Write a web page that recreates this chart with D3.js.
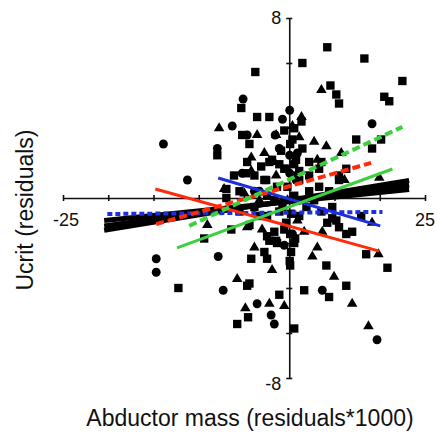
<!DOCTYPE html>
<html>
<head>
<meta charset="utf-8">
<script src="https://cdn.jsdelivr.net/npm/d3@7/dist/d3.min.js"></script>
<style>
    body { margin: 0; background: #fff; }
    text { font-family: Arial, "Liberation Sans", sans-serif; fill: #111; }
    .axis path, .axis line { stroke: #111; stroke-width: 1.6; }
</style>
</head>
<body>
<div id="chart-area"></div>
<script>

// residuals: [abductor mass, ucrit]
const squares = [
    [-7.5, 5.6], [-10.6, 4.0], [-7.1, 3.6], [-4.4, 3.6], [-10.4, 2.8], [2.9, 6.0], [8.4, 6.7],
    [16.6, 6.2], [25.0, 5.2], [9.1, 5.0], [10.4, 4.6], [11.0, 4.2], [21.0, 4.5], [22.1, 4.3],
    [2.7, 3.4], [14.8, 2.6], [1.1, 3.1], [-8.8, 2.4], [0.2, 2.4], [18.3, 2.2], [20.3, 2.6],
    [2.9, 2.2], [-3.8, 1.7], [-2.2, 1.5], [-1.1, 1.3], [1.1, 1.5], [6.6, 1.3], [-9.5, 1.1],
    [-5.1, 0.8], [11.0, 1.0], [-15.9, 1.9], [-4.4, 1.6], [-7.7, 1.0], [-5.5, 0.8], [-0.7, 1.3],
    [0.7, 1.0], [-13.9, 0.4], [-13.9, 0.0], [-18.8, -1.8], [-12.8, -1.4], [-0.7, -1.1],
    [0.2, -1.6], [-4.4, -1.9], [-2.9, -1.9], [-24.5, -4.0], [-9.3, -3.9], [-11.5, -5.6],
    [-9.1, -5.3], [-4.9, -1.7], [-2.7, -2.0], [1.1, -2.0], [0.4, -2.4], [-5.5, -2.4],
    [-8.4, -2.7], [-4.9, -2.7], [-8.8, -3.8], [8.2, -3.0], [9.5, -0.9], [11.0, -1.3],
    [12.6, -1.6], [13.9, -1.5], [12.6, -3.9], [3.3, -4.1], [8.8, -4.4], [-2.2, -4.3],
    [1.1, -5.8], [17.0, -2.5], [21.7, -3.1], [7.1, 1.6], [12.6, 1.3], [11.0, 0.8],
    [3.8, -0.4], [7.1, -0.6], [9.5, -0.4], [8.4, -1.1], [10.4, -1.0], [15.9, -0.8],
    [0.1, -2.8], [0.2, -3.0], [4.4, 0.3], [2.2, -0.8], [-2.2, -0.6], [-6.6, -0.8],
    [-11.0, -0.6], [2.2, 0.8], [4.4, 1.0], [-3.3, -0.1],
    [-1.1, 3.0], [0.7, 2.6], [-1.8, 2.1], [1.5, 1.7], [-0.4, 0.5], [1.1, 0.1], [-1.5, -0.4],
    [0.4, -0.7], [-1.1, -1.4], [1.3, -1.8], [-6.2, 1.4], [-9.3, 1.6], [-12.2, 1.0],
    [-11.0, 0.3], [-7.7, -0.4], [-4.9, -0.8], [-8.8, -1.2], [-3.3, -1.5], [2.2, 1.2],
    [4.4, 1.6], [5.5, -0.1], [6.6, 0.5], [8.8, 0.3], [-2.7, 0.5], [-4.9, 0.1]
];

const circles = [
    [-10.2, 4.4], [-12.6, 3.2], [-9.3, 2.8], [-3.1, 2.8], [0.1, 3.9], [18.3, 3.3], [-2.2, 2.2],
    [1.8, 2.0], [-10.4, 1.1], [0.1, 1.1], [-15.9, 2.2], [0.1, 1.9], [-27.8, 2.4], [-22.5, 0.8],
    [-29.4, -2.7], [-29.4, -3.3], [-15.7, -2.6], [-14.6, -4.1], [0.7, -1.6], [7.3, -4.1],
    [-7.1, -4.7], [-4.0, -5.2], [-3.3, -5.6], [19.4, -6.3], [-6.6, 0.3], [2.2, -0.1],
    [-1.5, 3.5], [1.5, 0.8], [-1.1, -2.1], [-7.7, 0.3]
];

const triangles = [
    [-15.5, 3.1], [2.7, 3.6], [2.2, 2.7], [7.1, 4.8], [-2.9, 2.8], [8.2, 2.3], [11.5, 2.0],
    [-5.5, 2.0], [-8.4, 1.8], [6.2, 1.7], [-8.4, 1.2], [-2.9, 1.0], [12.2, 0.8], [19.9, 0.9],
    [-14.4, 0.4], [-18.1, -1.2], [-9.9, 0.2], [-11.5, -3.6], [-9.7, -4.9], [-9.3, -1.3],
    [-6.0, -1.4], [1.8, -1.0], [-7.7, -2.2], [-3.8, -3.2], [6.2, -2.2], [5.1, -2.6],
    [7.3, -1.5], [9.9, -3.5], [13.9, -4.7], [-4.4, -4.7], [-1.1, -4.8], [17.5, -5.7],
    [19.7, -2.5], [18.3, -1.1], [-6.6, -0.1],
    [0.7, 3.2], [-0.4, -0.1], [-3.3, 1.6], [3.3, -1.5], [-7.1, 2.8], [5.5, 2.5]
];

// regression lines: [x1, y1, x2, y2]
const fitNames = ["all-a", "all-b", "all-c", "blueDash", "blue", "red", "redDash", "greenDash", "green"];
const fitValues = [
    [-40.9, -1.00, 26.5, 0.38],
    [-40.9, -1.24, 26.5, 0.58],
    [-40.9, -1.44, 26.5, 0.78],
    [-40.2, -0.71, 20.6, -0.62],
    [-15.7, 0.89, 20.1, -1.24],
    [-29.6, 0.40, 19.9, -2.36],
    [-29.4, -1.16, 18.1, 1.56],
    [-22.1, -1.24, 25.0, 3.16],
    [-24.8, -2.22, 22.8, 1.29]
];

// axis ends and their labels
const xDomain = [-50, 30];
const yDomain = [-8, 8];
const xEndLabels = ["-25", "25"];
const yEndLabels = ["-8", "8"];
const xTitle = "Abductor mass (residuals*1000)";
const yTitle = "Ucrit (residuals)";


class ScatterVis {

    constructor(parentElement) {
        this.parentElement = parentElement;
        this.initVis();
    }

    initVis() {
        let vis = this;

        vis.margin = {top: 18, right: 12, bottom: 59, left: 63};
        vis.width = 437 - vis.margin.left - vis.margin.right;
        vis.height = 437 - vis.margin.top - vis.margin.bottom;

        vis.svg = d3.select("#" + vis.parentElement).append("svg")
            .attr("width", 437)
            .attr("height", 437)
            .append("g")
            .attr("transform", "translate(" + vis.margin.left + "," + vis.margin.top + ")");

        vis.xScale = d3.scaleLinear()
            .domain(xDomain)
            .range([0, vis.width]);

        vis.yScale = d3.scaleLinear()
            .domain(yDomain)
            .range([vis.height, 0]);

        vis.updateVis();
    }

    updateVis() {
        let vis = this;

        // axes cross at zero, ticks cross the lines
        let xAxis = d3.axisBottom(vis.xScale)
            .tickValues(d3.range(xDomain[0], xDomain[1] + 1, 10))
            .tickSizeOuter(0)
            .tickFormat("");

        let yAxis = d3.axisLeft(vis.yScale)
            .tickValues(d3.range(yDomain[0], yDomain[1] + 1, 2))
            .tickSizeOuter(0)
            .tickFormat("");

        let gx = vis.svg.append("g")
            .attr("class", "axis x-axis")
            .attr("transform", "translate(0," + vis.yScale(0) + ")")
            .call(xAxis);
        gx.selectAll(".tick line").attr("y1", -3).attr("y2", 3);

        let gy = vis.svg.append("g")
            .attr("class", "axis y-axis")
            .attr("transform", "translate(" + vis.xScale(0) + ",0)")
            .call(yAxis);
        gy.selectAll(".tick line").attr("x1", -3).attr("x2", 3);

        // end labels
        vis.svg.selectAll(".x-end")
            .data(xEndLabels)
            .enter().append("text")
            .attr("class", "x-end")
            .attr("x", (d, i) => vis.xScale(xDomain[i]) + (i === 0 ? 3 : 0))
            .attr("y", vis.yScale(0) + 28)
            .attr("text-anchor", "middle")
            .style("font-size", "18px")
            .text(d => d);

        vis.svg.selectAll(".y-end")
            .data(yEndLabels)
            .enter().append("text")
            .attr("class", "y-end")
            .attr("x", vis.xScale(0) - 8)
            .attr("y", (d, i) => vis.yScale(yDomain[i]) + (i === 0 ? 12 : 6))
            .attr("text-anchor", "end")
            .style("font-size", "18px")
            .text(d => d);

        // markers
        let shapes = [
            {data: squares, type: d3.symbolSquare, size: 70},
            {data: circles, type: d3.symbolCircle, size: 62},
            {data: triangles, type: d3.symbolTriangle, size: 48}
        ];

        shapes.forEach(s => {
            vis.svg.append("g")
                .selectAll("path")
                .data(s.data)
                .enter().append("path")
                .attr("transform", d => "translate(" + vis.xScale(d[0]) + "," + vis.yScale(d[1]) + ")")
                .attr("d", d3.symbol().type(s.type).size(s.size))
                .attr("fill", "#000");
        });

        // fit lines
        let lineStyles = {
            "all-a": {color: "#000", width: 5, dash: null},
            "all-b": {color: "#000", width: 5, dash: null},
            "all-c": {color: "#000", width: 5, dash: null},
            "blueDash": {color: "#1c2ee0", width: 4, dash: "5,3"},
            "blue": {color: "#1c2ee0", width: 3, dash: null},
            "red": {color: "#ff2a0a", width: 3, dash: null},
            "redDash": {color: "#ff2a0a", width: 4, dash: "8,4"},
            "greenDash": {color: "#3ecf3e", width: 4, dash: "8,4"},
            "green": {color: "#3ecf3e", width: 3, dash: null}
        };

        vis.svg.append("g")
            .selectAll("line")
            .data(fitValues)
            .enter().append("line")
            .attr("x1", d => vis.xScale(d[0]))
            .attr("y1", d => vis.yScale(d[1]))
            .attr("x2", d => vis.xScale(d[2]))
            .attr("y2", d => vis.yScale(d[3]))
            .attr("stroke", (d, i) => lineStyles[fitNames[i]].color)
            .attr("stroke-width", (d, i) => lineStyles[fitNames[i]].width)
            .attr("stroke-dasharray", (d, i) => lineStyles[fitNames[i]].dash);

        // titles
        vis.svg.append("text")
            .attr("x", 250 - vis.margin.left)
            .attr("y", 426 - vis.margin.top)
            .attr("text-anchor", "middle")
            .style("font-size", "23px")
            .text(xTitle);

        vis.svg.append("text")
            .attr("transform", "translate(" + (33 - vis.margin.left) + "," + (210 - vis.margin.top) + ") rotate(-90)")
            .attr("text-anchor", "middle")
            .style("font-size", "23px")
            .text(yTitle);
    }
}

new ScatterVis("chart-area");
</script>
</body>
</html>
